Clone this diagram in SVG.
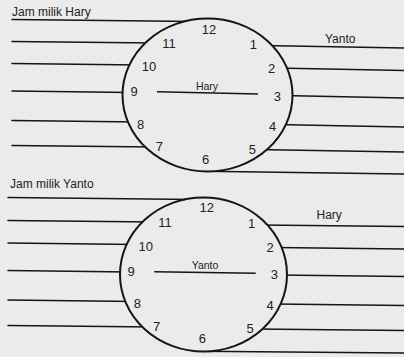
<svg xmlns="http://www.w3.org/2000/svg" width="404" height="357" viewBox="0 0 404 357">
<style>
.ln{stroke:#151515;stroke-width:1.6;fill:none;stroke-linecap:round}
.face{fill:#ebebeb;stroke:#151515;stroke-width:2}
.hand{stroke:#151515;stroke-width:1.6}
.num{font-family:"Liberation Sans",Arial,sans-serif;font-size:13px;fill:#222;text-anchor:middle}
.ttl{font-family:"Liberation Sans",Arial,sans-serif;font-size:12px;fill:#222}
.lbl{font-family:"Liberation Sans",Arial,sans-serif;font-size:10.5px;fill:#222;text-anchor:middle}
</style>
<rect width="404" height="357" fill="#ebebeb"/>
<g id="connectors">
  <!-- top clock left -->
  <line class="ln" x1="12" y1="19.5" x2="195" y2="21.5"/>
  <line class="ln" x1="12" y1="41.5" x2="155" y2="43"/>
  <line class="ln" x1="12" y1="63.5" x2="140" y2="65"/>
  <line class="ln" x1="12" y1="91" x2="130" y2="92.5"/>
  <line class="ln" x1="12" y1="120.5" x2="140" y2="122"/>
  <line class="ln" x1="12" y1="145.5" x2="155" y2="147"/>
  <!-- top clock right -->
  <line class="ln" x1="262" y1="45.5" x2="404" y2="48"/>
  <line class="ln" x1="275" y1="68" x2="404" y2="70.5"/>
  <line class="ln" x1="282" y1="95.5" x2="404" y2="98"/>
  <line class="ln" x1="275" y1="124.5" x2="404" y2="127"/>
  <line class="ln" x1="255" y1="149.5" x2="404" y2="152"/>
  <line class="ln" x1="205" y1="171.3" x2="404" y2="174"/>
  <!-- bottom clock left -->
  <line class="ln" x1="8" y1="197.5" x2="195" y2="199.5"/>
  <line class="ln" x1="8" y1="220.5" x2="155" y2="222"/>
  <line class="ln" x1="8" y1="243" x2="135" y2="244.5"/>
  <line class="ln" x1="8" y1="270.5" x2="130" y2="272"/>
  <line class="ln" x1="8" y1="300" x2="135" y2="301.5"/>
  <line class="ln" x1="8" y1="325.5" x2="155" y2="327"/>
  <!-- bottom clock right -->
  <line class="ln" x1="260" y1="225" x2="404" y2="226.5"/>
  <line class="ln" x1="275" y1="247.5" x2="404" y2="249"/>
  <line class="ln" x1="278" y1="275" x2="404" y2="276.5"/>
  <line class="ln" x1="275" y1="304" x2="404" y2="305.5"/>
  <line class="ln" x1="255" y1="329" x2="404" y2="330.5"/>
  <line class="ln" x1="200" y1="351.3" x2="404" y2="353"/>
</g>
<g id="title-hary"><text class="ttl" x="12" y="15.5">Jam milik Hary</text></g>
<g id="label-yanto-top"><text class="ttl" x="325" y="42.5">Yanto</text></g>
<g id="clock-hary">
  <ellipse class="face" cx="207.5" cy="95" rx="85" ry="76.5"/>
  <line class="hand" x1="157" y1="91.7" x2="258" y2="94"/>
  <text class="lbl" x="207" y="90">Hary</text>
  <text class="num" x="209" y="33.5">12</text>
  <text class="num" x="253.3" y="48.5">1</text>
  <text class="num" x="271.7" y="73">2</text>
  <text class="num" x="277.3" y="100.5">3</text>
  <text class="num" x="272.7" y="130.7">4</text>
  <text class="num" x="252.3" y="154">5</text>
  <text class="num" x="205.7" y="163.7">6</text>
  <text class="num" x="159.3" y="151.4">7</text>
  <text class="num" x="140.7" y="128.7">8</text>
  <text class="num" x="134" y="96.4">9</text>
  <text class="num" x="149" y="71.4">10</text>
  <text class="num" x="169" y="48">11</text>
</g>
<g id="title-yanto"><text class="ttl" x="10" y="188">Jam milik Yanto</text></g>
<g id="label-hary-bottom"><text class="ttl" x="316.5" y="219">Hary</text></g>
<g id="clock-yanto">
  <ellipse class="face" cx="203.5" cy="274.5" rx="83.5" ry="77"/>
  <line class="hand" x1="154.3" y1="271.7" x2="255.7" y2="273.3"/>
  <text class="lbl" x="205" y="269">Yanto</text>
  <text class="num" x="206.7" y="212">12</text>
  <text class="num" x="251.7" y="228">1</text>
  <text class="num" x="270" y="252">2</text>
  <text class="num" x="274.3" y="278.7">3</text>
  <text class="num" x="270" y="310.4">4</text>
  <text class="num" x="250" y="333">5</text>
  <text class="num" x="202.3" y="343">6</text>
  <text class="num" x="156.7" y="330.7">7</text>
  <text class="num" x="137.3" y="308">8</text>
  <text class="num" x="131" y="276.4">9</text>
  <text class="num" x="145.7" y="250.7">10</text>
  <text class="num" x="165" y="227">11</text>
</g>
</svg>
